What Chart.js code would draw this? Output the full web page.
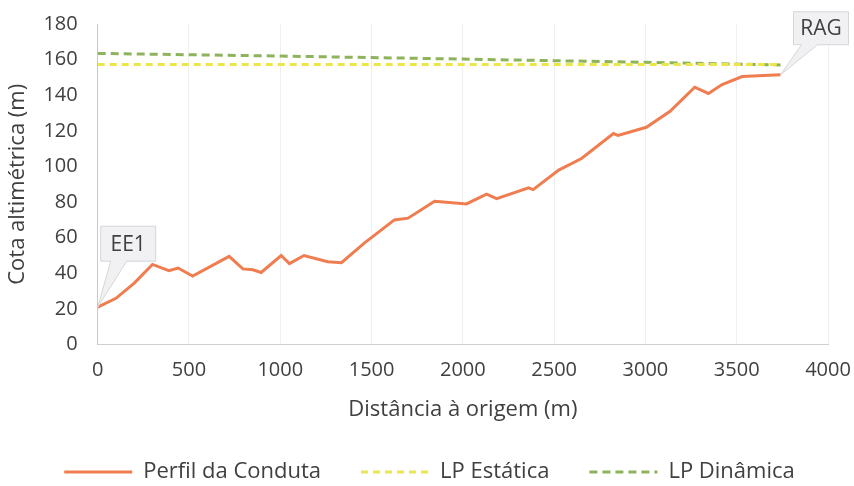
<!DOCTYPE html>
<html>
<head>
<meta charset="utf-8">
<script src="https://cdn.jsdelivr.net/npm/chart.js@4.4.0/dist/chart.umd.min.js"></script>
<style>
  html, body { margin: 0; padding: 0; background: #fff; }
  #wrap { width: 854px; height: 486px; }
</style>
</head>
<body>
<div id="wrap"><canvas id="perfilChart" width="854" height="486"></canvas></div>
<script>
// perfil longitudinal da conduta
const perfilX = [0, 100, 200, 300, 390, 440, 520, 720, 795, 850, 895, 1005, 1050, 1130, 1260, 1335, 1460, 1625, 1700, 1845, 2020, 2130, 2185, 2360, 2385, 2525, 2650, 2825, 2850, 3005, 3135, 3270, 3345, 3420, 3530, 3740];
const perfilY = [21, 26, 34.5, 45, 41.5, 43, 38.5, 49.5, 42.5, 42, 40.5, 50, 45.5, 50, 46.5, 46, 57, 70, 71, 80.5, 79, 84.5, 82, 88, 87, 98, 104.5, 118.5, 117.5, 122, 131, 144.5, 141, 146, 150.5, 151.5];

const estaticaX = [0, 3740];
const estaticaY = [157.3, 157.3];

const dinamicaX = [0, 1000, 2000, 3000, 3740];
const dinamicaY = [163.5, 162, 160.3, 158.5, 157];

const xTicks = [0, 500, 1000, 1500, 2000, 2500, 3000, 3500, 4000];

const callouts = [
    { text: 'EE1', x: 0, y: 21 },
    { text: 'RAG', x: 3740, y: 151.5 }
];

const FONT = "'Open Sans', sans-serif";
const TXT = '#404040';

function pts(xs, ys) {
    return xs.map((x, i) => ({ x: x, y: ys[i] }));
}

// caixas de texto EE1 / RAG
const calloutPlugin = {
    id: 'callouts',
    afterDatasetsDraw(chart) {
        const ctx = chart.ctx;
        const xs = chart.scales.x, ys = chart.scales.y;
        const boxes = [
            { dx: 3, dy: -81, w: 55, h: 35, tip: [10, 26] },
            { dx: 13, dy: -63, w: 55, h: 33, tip: [8, 24] }
        ];
        callouts.forEach((c, i) => {
            const px = xs.getPixelForValue(c.x);
            const py = ys.getPixelForValue(c.y);
            const b = boxes[i];
            const bx = px + b.dx, by = py + b.dy;
            ctx.save();
            ctx.fillStyle = '#f1f1f3';
            ctx.strokeStyle = '#d6d6d9';
            ctx.lineWidth = 1;
            ctx.beginPath();
            ctx.moveTo(bx, by);
            ctx.lineTo(bx + b.w, by);
            ctx.lineTo(bx + b.w, by + b.h);
            ctx.lineTo(bx + b.tip[1], by + b.h);
            ctx.lineTo(px, py);
            ctx.lineTo(bx + b.tip[0], by + b.h);
            ctx.lineTo(bx, by + b.h);
            ctx.closePath();
            ctx.fill();
            ctx.stroke();
            ctx.fillStyle = TXT;
            ctx.font = '21px ' + FONT;
            ctx.textAlign = 'center';
            ctx.textBaseline = 'middle';
            ctx.fillText(c.text, bx + b.w / 2, by + b.h / 2 + 1);
            ctx.restore();
        });
    }
};

const ctx = document.getElementById('perfilChart').getContext('2d');
const chart = new Chart(ctx, {
    type: 'line',
    data: {
        datasets: [
            {
                label: 'Perfil da Conduta',
                data: pts(perfilX, perfilY),
                borderColor: '#ef7d50',
                backgroundColor: '#ef7d50',
                borderWidth: 3,
                pointRadius: 0,
                tension: 0
            },
            {
                label: 'LP Estática',
                data: pts(estaticaX, estaticaY),
                borderColor: '#ece64c',
                backgroundColor: '#ece64c',
                borderWidth: 3,
                borderDash: [7, 5],
                pointRadius: 0
            },
            {
                label: 'LP Dinâmica',
                data: pts(dinamicaX, dinamicaY),
                borderColor: '#8db35c',
                backgroundColor: '#8db35c',
                borderWidth: 3,
                borderDash: [8, 5],
                pointRadius: 0
            }
        ]
    },
    options: {
        responsive: false,
        animation: false,
        layout: { padding: { top: 1, right: 0, left: 5, bottom: -7 } },
        plugins: {
            tooltip: { enabled: false },
            legend: {
                position: 'bottom',
                labels: {
                    color: TXT,
                    font: { family: FONT, size: 22 },
                    usePointStyle: true,
                    pointStyle: 'line',
                    pointStyleWidth: 68,
                    boxHeight: 22,
                    padding: 40,
                    generateLabels: c => c.data.datasets.map((ds, i) => ({
                        text: ds.label,
                        datasetIndex: i,
                        fillStyle: ds.borderColor,
                        strokeStyle: ds.borderColor,
                        fontColor: TXT,
                        lineWidth: 3,
                        lineDash: ds.borderDash || [],
                        pointStyle: 'line',
                        hidden: false
                    }))
                }
            }
        },
        scales: {
            x: {
                type: 'linear',
                min: 0,
                max: 4000,
                afterBuildTicks: axis => { axis.ticks = xTicks.map(v => ({ value: v })); },
                afterFit: axis => { axis.paddingRight = 26; },
                grid: { color: '#efefef', drawTicks: false },
                border: { color: '#d0d0d0' },
                ticks: {
                    color: TXT,
                    font: { family: FONT, size: 20 },
                    padding: 14,
                    maxRotation: 0,
                    callback: v => String(v)
                },
                title: {
                    display: true,
                    text: 'Distância à origem (m)',
                    color: TXT,
                    font: { family: FONT, size: 22 },
                    padding: { top: 0, bottom: -2 }
                }
            },
            y: {
                min: 0,
                max: 180,
                ticks: { stepSize: 20, color: TXT, font: { family: FONT, size: 20 }, padding: 12 },
                grid: { display: false },
                border: { color: '#c8c8c8' },
                title: {
                    display: true,
                    text: 'Cota altimétrica (m)',
                    color: TXT,
                    font: { family: FONT, size: 22 },
                    padding: { top: 0, bottom: 0 }
                }
            }
        }
    },
    plugins: [calloutPlugin]
});
</script>
</body>
</html>
